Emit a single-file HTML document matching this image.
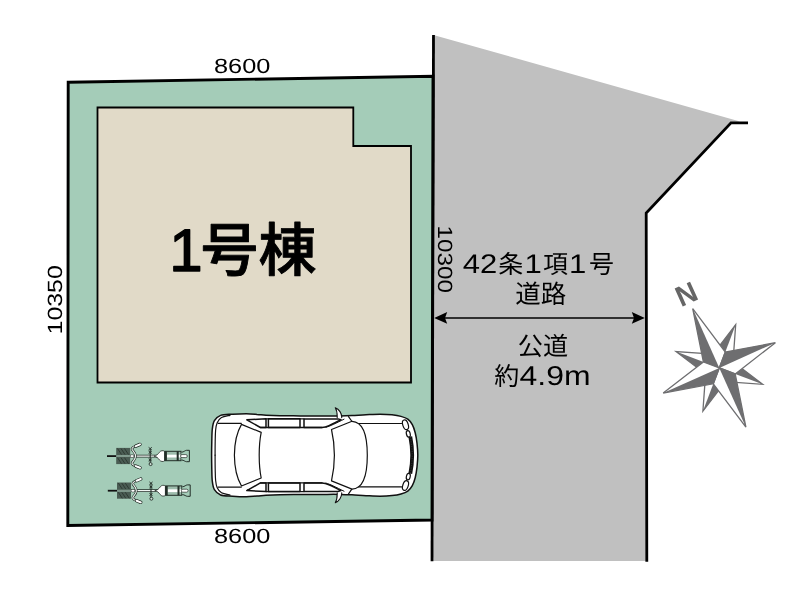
<!DOCTYPE html>
<html lang="ja">
<head>
<meta charset="utf-8">
<title>1号棟 区画図</title>
<style>
html,body{margin:0;padding:0;background:#fff;}
body{width:800px;height:599px;overflow:hidden;}
svg{display:block;}
text{text-rendering:geometricPrecision;}
svg{will-change:transform;}
.jp{font-family:"Liberation Sans","Noto Sans CJK JP",sans-serif;}
.num{font-family:"Liberation Sans",sans-serif;}
</style>
</head>
<body>
<svg width="800" height="599" viewBox="0 0 800 599">
<rect width="800" height="599" fill="#fff"/>
<!-- road -->
<polygon points="433.4,35 740,121.5 731,122.8 646.2,213 646.8,561 432,561" fill="#c0c0c0"/>
<polyline points="433.5,35.1 432,561.2" fill="none" stroke="#000" stroke-width="2.8"/>
<polyline points="748,122.8 731,122.8 646.2,213 646.8,561.8" fill="none" stroke="#000" stroke-width="2.8" stroke-linejoin="miter"/>
<!-- lot -->
<polygon points="68.2,82.2 433,76.3 432,520 67.8,525.5" fill="#a4ccb8" stroke="#000" stroke-width="2.9" stroke-linejoin="miter"/>
<!-- building -->
<polygon points="97.5,107.5 353.3,107.5 353.3,146 411,146 411,382.5 97.5,382.5" fill="#e1dac8" stroke="#000" stroke-width="1.8"/>
<!-- labels -->
<text class="jp" y="271.3" font-size="58" font-weight="500" stroke="#000" stroke-width="0.9" stroke-linejoin="round"><tspan x="169.3" font-size="60" stroke-width="1.4">1</tspan><tspan x="200.5">号棟</tspan></text>
<text class="num" transform="translate(242.2,72.9) scale(1.23,1)" font-size="20.6" text-anchor="middle">8600</text>
<text class="num" transform="translate(242.2,543.3) scale(1.23,1)" font-size="20.6" text-anchor="middle">8600</text>
<text class="num" transform="translate(61.7,299.8) rotate(-90) scale(1.21,1)" font-size="20.6" text-anchor="middle">10350</text>
<text class="num" transform="translate(437.7,259.2) rotate(90) scale(1.18,1)" font-size="20.6" text-anchor="middle">10300</text>
<!-- road text -->
<g font-size="25">
<text class="jp" y="273"><tspan x="462.7" y="272.6" font-size="27" textLength="34.5" lengthAdjust="spacingAndGlyphs">42</tspan><tspan x="498.3" y="273">条</tspan><tspan x="524.5" y="272.6" font-size="27" textLength="17.3" lengthAdjust="spacingAndGlyphs">1</tspan><tspan x="542.9" y="273">項</tspan><tspan x="569.1" y="272.6" font-size="27" textLength="17.3" lengthAdjust="spacingAndGlyphs">1</tspan><tspan x="589.1" y="273">号</tspan></text>
<text class="jp" x="540.8" y="302.6" font-size="25.5" text-anchor="middle">道路</text>
<text class="jp" x="543" y="354.6" font-size="25.2" text-anchor="middle">公道</text>
<text class="jp" y="384.6"><tspan x="494.3">約</tspan><tspan x="519.6" y="384.7" font-size="27.3" textLength="71" lengthAdjust="spacingAndGlyphs">4.9m</tspan></text>
</g>
<!-- arrow -->
<line x1="440" y1="317.9" x2="640" y2="317.9" stroke="#000" stroke-width="1.5"/>
<polygon points="434.2,317.9 447.2,312 445,317.9 447.2,323.7" fill="#000"/>
<polygon points="644.8,317.9 631.8,312 634,317.9 631.8,323.7" fill="#000"/>
<!-- compass -->
<g>
<polygon points="735.7,324.6 713.2,354.2 719.3,367.9 733.0,361.8" fill="#fff" stroke="#6e6e70" stroke-width="1.3" stroke-linejoin="miter"/>
<polygon points="735.7,324.6 713.2,354.2 719.3,367.9" fill="#6e6e70"/>
<polygon points="762.6,384.3 733.0,361.8 719.3,367.9 725.4,381.6" fill="#fff" stroke="#6e6e70" stroke-width="1.3" stroke-linejoin="miter"/>
<polygon points="762.6,384.3 733.0,361.8 719.3,367.9" fill="#6e6e70"/>
<polygon points="702.9,411.2 725.4,381.6 719.3,367.9 705.6,374.0" fill="#fff" stroke="#6e6e70" stroke-width="1.3" stroke-linejoin="miter"/>
<polygon points="702.9,411.2 725.4,381.6 719.3,367.9" fill="#6e6e70"/>
<polygon points="676.0,351.5 705.6,374.0 719.3,367.9 713.2,354.2" fill="#fff" stroke="#6e6e70" stroke-width="1.3" stroke-linejoin="miter"/>
<polygon points="676.0,351.5 705.6,374.0 719.3,367.9" fill="#6e6e70"/>
<polygon points="692.7,308.6 703.4,361.9 719.3,367.9 725.3,352.0" fill="#fff" stroke="#6e6e70" stroke-width="1.3" stroke-linejoin="miter"/>
<polygon points="692.7,308.6 703.4,361.9 719.3,367.9" fill="#6e6e70"/>
<polygon points="775.4,342.7 725.3,352.0 719.3,367.9 735.2,373.9" fill="#fff" stroke="#6e6e70" stroke-width="1.3" stroke-linejoin="miter"/>
<polygon points="775.4,342.7 725.3,352.0 719.3,367.9" fill="#6e6e70"/>
<polygon points="745.9,427.2 735.2,373.9 719.3,367.9 713.3,383.8" fill="#fff" stroke="#6e6e70" stroke-width="1.3" stroke-linejoin="miter"/>
<polygon points="745.9,427.2 735.2,373.9 719.3,367.9" fill="#6e6e70"/>
<polygon points="663.2,393.1 713.3,383.8 719.3,367.9 703.4,361.9" fill="#fff" stroke="#6e6e70" stroke-width="1.3" stroke-linejoin="miter"/>
<polygon points="663.2,393.1 713.3,383.8 719.3,367.9" fill="#6e6e70"/>
<text class="num" transform="translate(686.3,293.8) rotate(-24.2)" font-size="28.6" font-weight="700" fill="#666" text-anchor="middle" y="10.2">N</text>
</g>
<!-- car -->
<g>
<path d="M211.6,455.2 C211.6,450.5 211.7,445.5 211.8,441.2 C211.9,436.9 211.9,432.6 212.3,429.2 C212.7,425.8 213.0,423.0 214.4,420.7 C215.8,418.4 217.6,416.5 220.6,415.4 C223.6,414.3 228.3,414.5 232.6,414.2 C236.9,413.9 242.2,413.7 246.3,413.7 C250.4,413.7 253.7,414.1 257.0,414.4 C260.3,414.6 262.2,415.0 266.0,415.2 C269.8,415.4 274.3,415.6 280.0,415.7 C285.7,415.8 293.3,415.8 300.0,415.9 C306.7,415.9 313.3,416.0 320.0,416.0 C326.7,416.0 334.7,416.1 340.0,416.0 C345.3,415.9 347.7,415.8 352.0,415.6 C356.3,415.4 361.3,414.9 366.0,414.7 C370.7,414.5 375.7,414.2 380.0,414.2 C384.3,414.2 388.5,414.4 392.0,414.8 C395.5,415.2 398.4,415.7 401.0,416.4 C403.6,417.1 405.9,417.8 407.8,419.2 C409.7,420.6 411.1,422.4 412.3,424.7 C413.5,426.9 414.4,429.6 415.2,432.7 C416.0,435.8 416.6,439.4 417.0,443.2 C417.4,446.9 417.8,451.2 417.8,455.2 C417.8,459.2 417.4,463.4 417.0,467.2 C416.6,470.9 416.0,474.6 415.2,477.7 C414.4,480.8 413.5,483.4 412.3,485.7 C411.1,487.9 409.7,489.8 407.8,491.2 C405.9,492.6 403.6,493.3 401.0,494.0 C398.4,494.7 395.5,495.2 392.0,495.6 C388.5,496.0 384.3,496.2 380.0,496.2 C375.7,496.2 370.7,495.9 366.0,495.7 C361.3,495.5 356.3,495.0 352.0,494.8 C347.7,494.6 345.3,494.5 340.0,494.4 C334.7,494.3 326.7,494.4 320.0,494.4 C313.3,494.4 306.7,494.4 300.0,494.5 C293.3,494.6 285.7,494.6 280.0,494.7 C274.3,494.8 269.8,495.0 266.0,495.2 C262.2,495.4 260.3,495.8 257.0,496.0 C253.7,496.2 250.4,496.7 246.3,496.7 C242.2,496.7 236.9,496.5 232.6,496.2 C228.3,495.9 223.6,496.1 220.6,495.0 C217.6,493.9 215.8,492.0 214.4,489.7 C213.0,487.4 212.7,484.6 212.3,481.2 C211.9,477.8 211.9,473.5 211.8,469.2 C211.7,464.9 211.6,459.9 211.6,455.2Z" fill="#fff" stroke="#111" stroke-width="1.5" stroke-linejoin="round" stroke-linecap="round"/>
<g>
<path d="M215.1,455.2 C215.1,452.9 215.1,445.4 215.2,441.2 C215.3,437.0 215.3,433.3 215.6,430.2 C215.9,427.1 216.2,424.8 217.2,422.7 C218.2,420.6 219.4,418.8 221.5,417.6 C223.6,416.4 228.6,415.7 230.0,415.3" fill="none" stroke="#111" stroke-width="1.2" stroke-linejoin="round" stroke-linecap="round"/>
<path d="M218.2,423.3 H241.3" fill="none" stroke="#111" stroke-width="1.2" stroke-linejoin="round" stroke-linecap="round"/>
<path d="M246.8,419.8 L266,418.8 V427.5 H260.4 Z" fill="#fff" stroke="#111" stroke-width="1.5" stroke-linejoin="round" stroke-linecap="round"/>
<path d="M268.4,418.8 H300 V427.5 H268.4 Z" fill="#fff" stroke="#111" stroke-width="1.5" stroke-linejoin="round" stroke-linecap="round"/>
<path d="M304,418.9 H338 L341,419.8 C336,422.2 332,424.2 329,425.6 C327,426.6 325,427.5 322,427.5 H304 Z" fill="#fff" stroke="#111" stroke-width="1.5" stroke-linejoin="round" stroke-linecap="round"/>
<path d="M326,427.3 C330,426.2 336,423.2 344,419.2" fill="none" stroke="#111" stroke-width="1" stroke-linejoin="round" stroke-linecap="round"/>
<path d="M358.5,423.5 H401.5" fill="none" stroke="#111" stroke-width="1.2" stroke-linejoin="round" stroke-linecap="round"/>
<path d="M348.5,416.6 L352,421.5" fill="none" stroke="#111" stroke-width="1.2" stroke-linejoin="round" stroke-linecap="round"/>
<ellipse cx="405.5" cy="424.8" rx="2.7" ry="5" transform="rotate(-18 405.5 424.8)" fill="#fff" stroke="#111" stroke-width="1.2" stroke-linejoin="round" stroke-linecap="round"/>
<ellipse cx="408.3" cy="433.8" rx="1.9" ry="3.3" transform="rotate(-14 408.3 433.8)" fill="#fff" stroke="#111" stroke-width="1.2" stroke-linejoin="round" stroke-linecap="round"/>
<path d="M337.2,417.6 L337.2,416.6 C337.2,413.2 336.6,409.8 335.3,407.7 C339.5,409.2 341.5,413.7 341.7,416.6 L341.7,417.6" fill="#fff" stroke="#111" stroke-width="1.1" stroke-linejoin="round" stroke-linecap="round"/>
<path d="M260.4,427.5 H322" fill="none" stroke="#111" stroke-width="1.3" stroke-linejoin="round" stroke-linecap="round"/>
<path d="M266,418.8 H304" fill="none" stroke="#111" stroke-width="1.3" stroke-linejoin="round" stroke-linecap="round"/>
</g>
<g transform="translate(0,910.4) scale(1,-1)">
<path d="M215.1,455.2 C215.1,452.9 215.1,445.4 215.2,441.2 C215.3,437.0 215.3,433.3 215.6,430.2 C215.9,427.1 216.2,424.8 217.2,422.7 C218.2,420.6 219.4,418.8 221.5,417.6 C223.6,416.4 228.6,415.7 230.0,415.3" fill="none" stroke="#111" stroke-width="1.2" stroke-linejoin="round" stroke-linecap="round"/>
<path d="M218.2,423.3 H241.3" fill="none" stroke="#111" stroke-width="1.2" stroke-linejoin="round" stroke-linecap="round"/>
<path d="M246.8,419.8 L266,418.8 V427.5 H260.4 Z" fill="#fff" stroke="#111" stroke-width="1.5" stroke-linejoin="round" stroke-linecap="round"/>
<path d="M268.4,418.8 H300 V427.5 H268.4 Z" fill="#fff" stroke="#111" stroke-width="1.5" stroke-linejoin="round" stroke-linecap="round"/>
<path d="M304,418.9 H338 L341,419.8 C336,422.2 332,424.2 329,425.6 C327,426.6 325,427.5 322,427.5 H304 Z" fill="#fff" stroke="#111" stroke-width="1.5" stroke-linejoin="round" stroke-linecap="round"/>
<path d="M326,427.3 C330,426.2 336,423.2 344,419.2" fill="none" stroke="#111" stroke-width="1" stroke-linejoin="round" stroke-linecap="round"/>
<path d="M358.5,423.5 H401.5" fill="none" stroke="#111" stroke-width="1.2" stroke-linejoin="round" stroke-linecap="round"/>
<path d="M348.5,416.6 L352,421.5" fill="none" stroke="#111" stroke-width="1.2" stroke-linejoin="round" stroke-linecap="round"/>
<ellipse cx="405.5" cy="424.8" rx="2.7" ry="5" transform="rotate(-18 405.5 424.8)" fill="#fff" stroke="#111" stroke-width="1.2" stroke-linejoin="round" stroke-linecap="round"/>
<ellipse cx="408.3" cy="433.8" rx="1.9" ry="3.3" transform="rotate(-14 408.3 433.8)" fill="#fff" stroke="#111" stroke-width="1.2" stroke-linejoin="round" stroke-linecap="round"/>
<path d="M337.2,417.6 L337.2,416.6 C337.2,413.2 336.6,409.8 335.3,407.7 C339.5,409.2 341.5,413.7 341.7,416.6 L341.7,417.6" fill="#fff" stroke="#111" stroke-width="1.1" stroke-linejoin="round" stroke-linecap="round"/>
<path d="M260.4,427.5 H322" fill="none" stroke="#111" stroke-width="1.3" stroke-linejoin="round" stroke-linecap="round"/>
<path d="M266,418.8 H304" fill="none" stroke="#111" stroke-width="1.3" stroke-linejoin="round" stroke-linecap="round"/>
</g>
<path d="M241.5,424.4 L261.2,432.4 C259.6,440.2 259.2,448.2 259.2,455.2 C259.2,462.2 259.6,470.2 261.2,478.0 L241.5,486.0 C237.5,479.2 234.5,467.2 234.4,455.2 C234.5,443.2 237.5,431.2 241.5,424.4 Z" fill="#fff" stroke="#111" stroke-width="1.2" stroke-linejoin="round" stroke-linecap="round"/>
<path d="M331.5,429.5 L352,421.3 C362,421.7 367.3,433.2 367.3,455.2 C367.3,477.2 362,488.7 352,489.1 L331.5,480.9 C333.5,472.2 334.4,463.2 334.4,455.2 C334.4,447.2 333.5,438.2 331.5,429.5 Z" fill="#fff" stroke="#111" stroke-width="1.2" stroke-linejoin="round" stroke-linecap="round"/>
<path d="M410.3,436.7 C411.6,443.2 412.2,449.2 412.2,455.2 C412.2,461.2 411.6,467.2 410.3,473.7" fill="none" stroke="#111" stroke-width="3.8" stroke-linecap="butt"/>
<path d="M410.3,436.7 C411.6,443.2 412.2,449.2 412.2,455.2 C412.2,461.2 411.6,467.2 410.3,473.7" fill="none" stroke="#555" stroke-width="0.6" stroke-dasharray="0.8 1.6"/>
</g>
<!-- bikes -->
<g>
<g transform="translate(0.0,456.1)">
<line x1="107" y1="0" x2="116.5" y2="0" stroke="#111" stroke-width="1.8"/>
<line x1="130" y1="0" x2="183" y2="0" stroke="#222d27" stroke-width="2.7"/>
<line x1="130" y1="0" x2="183" y2="0" stroke="#f2f7f4" stroke-width="1.3"/>
<rect x="116.2" y="-8.2" width="14" height="7.4" fill="#4a5c53"/>
<rect x="116.2" y="0.8" width="14" height="7.2" fill="#4a5c53"/>
<rect x="116.2" y="-0.8" width="14" height="1.6" fill="#7e9489"/>
<path d="M117.5,-7.6 l4,6 M121,-7.6 l4,6 M124.5,-7.6 l4,6 M117.5,1.6 l4,6 M121,1.6 l4,6 M124.5,1.6 l4,6" stroke="#2a352f" stroke-width="0.9" fill="none"/>
<path d="M140,-11.7 L134.6,-9.5 C132.6,-8.7 131.4,-7.6 132.2,-6.4 C133.4,-4.6 135.6,-3 135.6,0 C135.6,3 133.4,4.6 132.2,6.4 C131.4,7.6 132.6,8.7 134.6,9.5 L140,11.7" fill="none" stroke="#222d27" stroke-width="2.4" stroke-linecap="round" stroke-linejoin="round"/>
<path d="M140,-11.7 L134.6,-9.5 C132.6,-8.7 131.4,-7.6 132.2,-6.4 C133.4,-4.6 135.6,-3 135.6,0 C135.6,3 133.4,4.6 132.2,6.4 C131.4,7.6 132.6,8.7 134.6,9.5 L140,11.7" fill="none" stroke="#eef5f1" stroke-width="1.1" stroke-linecap="round" stroke-linejoin="round"/>
<path d="M135.8,-10 L140,-11.7 M135.8,10 L140,11.7" stroke="#222d27" stroke-width="3.3" stroke-linecap="round"/>
<path d="M135.8,-10 L140,-11.7 M135.8,10 L140,11.7" stroke="#fff" stroke-width="2" stroke-linecap="round"/>
<rect x="130.4" y="-1.3" width="3.4" height="2.6" rx="1" fill="#fff" stroke="#222d27" stroke-width="0.5"/>
<line x1="150.2" y1="-7" x2="150.2" y2="7.5" stroke="#222d27" stroke-width="1.1"/>
<path d="M148.6,-8.8 l3.2,2.6 m0,-2.6 l-3.2,2.6 M148.6,-5 l3.2,2.4 m0,-2.4 l-3.2,2.4" stroke="#222d27" stroke-width="0.9" fill="none"/>
<path d="M148.6,2.6 l3.2,2.4 m0,-2.4 l-3.2,2.4" stroke="#222d27" stroke-width="0.9" fill="none"/>
<circle cx="150.6" cy="8" r="1.5" fill="#cfe2d8" stroke="#222d27" stroke-width="0.9"/>
<path d="M154,0 C156.5,-0.5 158,-1.8 159.4,-3.8 C160.6,-5.6 163.4,-6 164.6,-4.6 L164.6,4.6 C163.4,6 160.6,5.6 159.4,3.8 C158,1.8 156.5,0.5 154,0 Z" fill="#fff" stroke="#222d27" stroke-width="0.8" stroke-linejoin="round"/>
<rect x="164.8" y="-4.8" width="16.2" height="9.4" fill="#9dbcac" stroke="#222d27" stroke-width="1"/>
<rect x="166.8" y="-1.4" width="14" height="2.8" fill="#fff"/>
<path d="M165.9,-4.8 V4.6 M177.7,-4.8 V4.6" stroke="#222d27" stroke-width="2" fill="none"/>
<path d="M181.5,-3.8 C184,-4.2 185,-5.7 186.5,-5.8 L189.4,-5.8 V5.6 L186.5,5.6 C185,5.5 184,4.2 181.5,3.8" fill="#a4ccb8" stroke="#222d27" stroke-width="1" stroke-linejoin="round"/>
<rect x="180.5" y="-1.5" width="6.8" height="3" rx="1.5" fill="#fff" stroke="#222d27" stroke-width="0.7"/>
</g>
<g transform="translate(0.8,490.7)">
<line x1="107" y1="0" x2="116.5" y2="0" stroke="#111" stroke-width="1.8"/>
<line x1="130" y1="0" x2="183" y2="0" stroke="#222d27" stroke-width="2.7"/>
<line x1="130" y1="0" x2="183" y2="0" stroke="#f2f7f4" stroke-width="1.3"/>
<rect x="116.2" y="-8.2" width="14" height="7.4" fill="#4a5c53"/>
<rect x="116.2" y="0.8" width="14" height="7.2" fill="#4a5c53"/>
<rect x="116.2" y="-0.8" width="14" height="1.6" fill="#7e9489"/>
<path d="M117.5,-7.6 l4,6 M121,-7.6 l4,6 M124.5,-7.6 l4,6 M117.5,1.6 l4,6 M121,1.6 l4,6 M124.5,1.6 l4,6" stroke="#2a352f" stroke-width="0.9" fill="none"/>
<path d="M140,-11.7 L134.6,-9.5 C132.6,-8.7 131.4,-7.6 132.2,-6.4 C133.4,-4.6 135.6,-3 135.6,0 C135.6,3 133.4,4.6 132.2,6.4 C131.4,7.6 132.6,8.7 134.6,9.5 L140,11.7" fill="none" stroke="#222d27" stroke-width="2.4" stroke-linecap="round" stroke-linejoin="round"/>
<path d="M140,-11.7 L134.6,-9.5 C132.6,-8.7 131.4,-7.6 132.2,-6.4 C133.4,-4.6 135.6,-3 135.6,0 C135.6,3 133.4,4.6 132.2,6.4 C131.4,7.6 132.6,8.7 134.6,9.5 L140,11.7" fill="none" stroke="#eef5f1" stroke-width="1.1" stroke-linecap="round" stroke-linejoin="round"/>
<path d="M135.8,-10 L140,-11.7 M135.8,10 L140,11.7" stroke="#222d27" stroke-width="3.3" stroke-linecap="round"/>
<path d="M135.8,-10 L140,-11.7 M135.8,10 L140,11.7" stroke="#fff" stroke-width="2" stroke-linecap="round"/>
<rect x="130.4" y="-1.3" width="3.4" height="2.6" rx="1" fill="#fff" stroke="#222d27" stroke-width="0.5"/>
<line x1="150.2" y1="-7" x2="150.2" y2="7.5" stroke="#222d27" stroke-width="1.1"/>
<path d="M148.6,-8.8 l3.2,2.6 m0,-2.6 l-3.2,2.6 M148.6,-5 l3.2,2.4 m0,-2.4 l-3.2,2.4" stroke="#222d27" stroke-width="0.9" fill="none"/>
<path d="M148.6,2.6 l3.2,2.4 m0,-2.4 l-3.2,2.4" stroke="#222d27" stroke-width="0.9" fill="none"/>
<circle cx="150.6" cy="8" r="1.5" fill="#cfe2d8" stroke="#222d27" stroke-width="0.9"/>
<path d="M154,0 C156.5,-0.5 158,-1.8 159.4,-3.8 C160.6,-5.6 163.4,-6 164.6,-4.6 L164.6,4.6 C163.4,6 160.6,5.6 159.4,3.8 C158,1.8 156.5,0.5 154,0 Z" fill="#fff" stroke="#222d27" stroke-width="0.8" stroke-linejoin="round"/>
<rect x="164.8" y="-4.8" width="16.2" height="9.4" fill="#9dbcac" stroke="#222d27" stroke-width="1"/>
<rect x="166.8" y="-1.4" width="14" height="2.8" fill="#fff"/>
<path d="M165.9,-4.8 V4.6 M177.7,-4.8 V4.6" stroke="#222d27" stroke-width="2" fill="none"/>
<path d="M181.5,-3.8 C184,-4.2 185,-5.7 186.5,-5.8 L189.4,-5.8 V5.6 L186.5,5.6 C185,5.5 184,4.2 181.5,3.8" fill="#a4ccb8" stroke="#222d27" stroke-width="1" stroke-linejoin="round"/>
<rect x="180.5" y="-1.5" width="6.8" height="3" rx="1.5" fill="#fff" stroke="#222d27" stroke-width="0.7"/>
</g>
</g>
</svg>
</body>
</html>
